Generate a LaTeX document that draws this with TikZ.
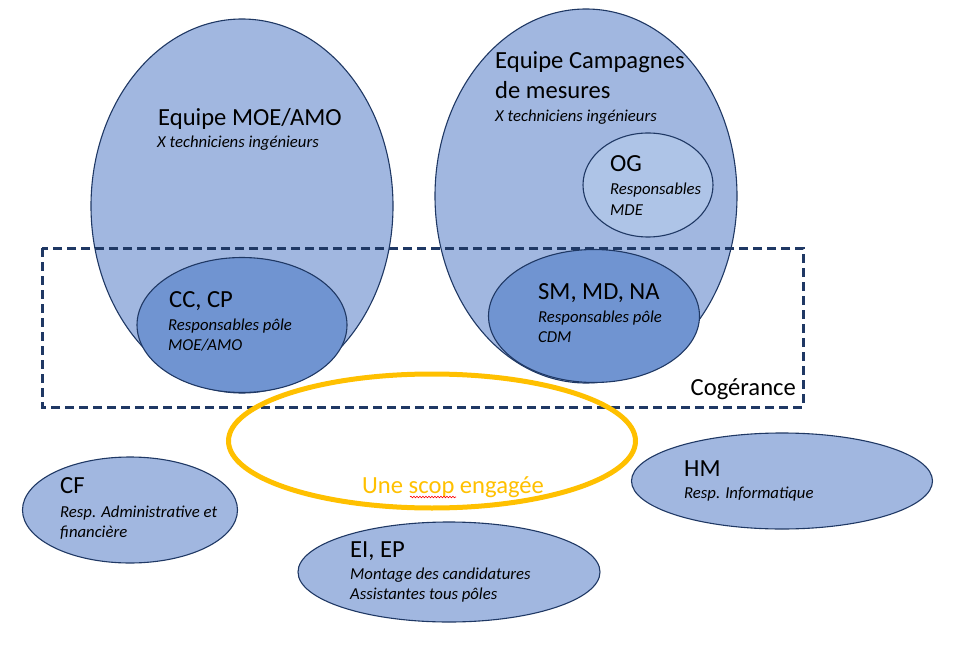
\documentclass[tikz,border=0pt]{standalone}
\usepackage{fontspec}
\setmainfont{Carlito}
\usetikzlibrary{shapes.geometric}
\usetikzlibrary{decorations.pathmorphing}
\definecolor{teamBlue}{HTML}{A1B7E0}
\definecolor{leadBlue}{HTML}{7094D1}
\definecolor{paleBlue}{HTML}{AEC4E7}
\definecolor{navyLine}{HTML}{1F3864}
\definecolor{scopGold}{HTML}{FFC000}
\tikzset{
  blob/.style={ellipse, draw=navyLine, line width=1.1pt, inner sep=0pt},
  big/.style={anchor=base west, inner sep=0pt, font=\fontsize{24.6}{28}\selectfont},
  small/.style={anchor=base west, inner sep=0pt, font=\fontsize{16.7}{20}\selectfont\itshape}
}

\begin{document}
\begin{tikzpicture}[x=1pt, y=-1pt]
    \useasboundingbox (0,0) rectangle (958,655);

    % equipes
    \node[blob, fill=teamBlue, minimum width=302, minimum height=374] (moe) at (242,206) {};
    \node[blob, fill=teamBlue, minimum width=302, minimum height=374] (cdm) at (586,196) {};
    \node[blob, fill=leadBlue, minimum width=210, minimum height=135] (ccp) at (242,325) {};
    \node[blob, fill=paleBlue, minimum width=130, minimum height=104] (og) at (648,185) {};
    \node[blob, fill=leadBlue, minimum width=211, minimum height=133] (smn) at (594,316) {};

    \draw[navyLine, line width=3pt, dash pattern=on 9pt off 5pt] (42,248) rectangle (803,407);
    \node[big, anchor=base east] (cog) at (796,395) {Cogérance};

    % scop
    \node[ellipse, draw=scopGold, line width=5pt, inner sep=0pt, minimum width=407, minimum height=134] (scop) at (432,441) {};
    \node[big, text=scopGold] (scoptxt) at (362,493) {Une scop engagée};
    \coordinate (wavyA) at (410,497);
    \coordinate (wavyB) at (456,497);
    \draw[red, line width=0.6pt, decorate, decoration={snake, amplitude=0.8pt, segment length=3pt}] (wavyA) -- (wavyB);

    % autres
    \node[blob, fill=teamBlue, minimum width=215, minimum height=106] (cf) at (130,510) {};
    \node[blob, fill=teamBlue, minimum width=302, minimum height=100] (eie) at (449,572) {};
    \node[blob, fill=teamBlue, minimum width=301, minimum height=96] (hm) at (782,481) {};

    \node[big] (moeT) at (158,126) {Equipe MOE/AMO};
    \node[small] (moeS) at (157,148) {X techniciens ingénieurs};

    \node[big] (cdmT) at (495,69) {Equipe Campagnes};
    \node[big] (cdmT2) at (495,99) {de mesures};
    \node[small] (cdmS) at (495,122) {X techniciens ingénieurs};

    \node[big] (ogT) at (610,172) {OG};
    \node[small] (ogS) at (610,195) {Responsables};
    \node[small] (ogS2) at (610,215) {MDE};

    \node[big] (ccpT) at (169,307) {CC, CP};
    \node[small] (ccpS) at (168,330) {Responsables pôle};
    \node[small] (ccpS2) at (168,350) {MOE/AMO};

    \node[big] (smnT) at (538,299) {SM, MD, NA};
    \node[small] (smnS) at (538,322) {Responsables pôle};
    \node[small] (smnS2) at (538,342) {CDM};

    \node[big] (cfT) at (60,493) {CF};
    \node[small] (cfS) at (60,517) {Resp. Administrative et};
    \node[small] (cfS2) at (60,537) {financière};

    \node[big] (eieT) at (350,557) {EI, EP};
    \node[small] (eieS) at (350,579) {Montage des candidatures};
    \node[small] (eieS2) at (350,599) {Assistantes tous pôles};

    \node[big] (hmT) at (684,476) {HM};
    \node[small] (hmS) at (684,498) {Resp. Informatique};
\end{tikzpicture}
\end{document}
